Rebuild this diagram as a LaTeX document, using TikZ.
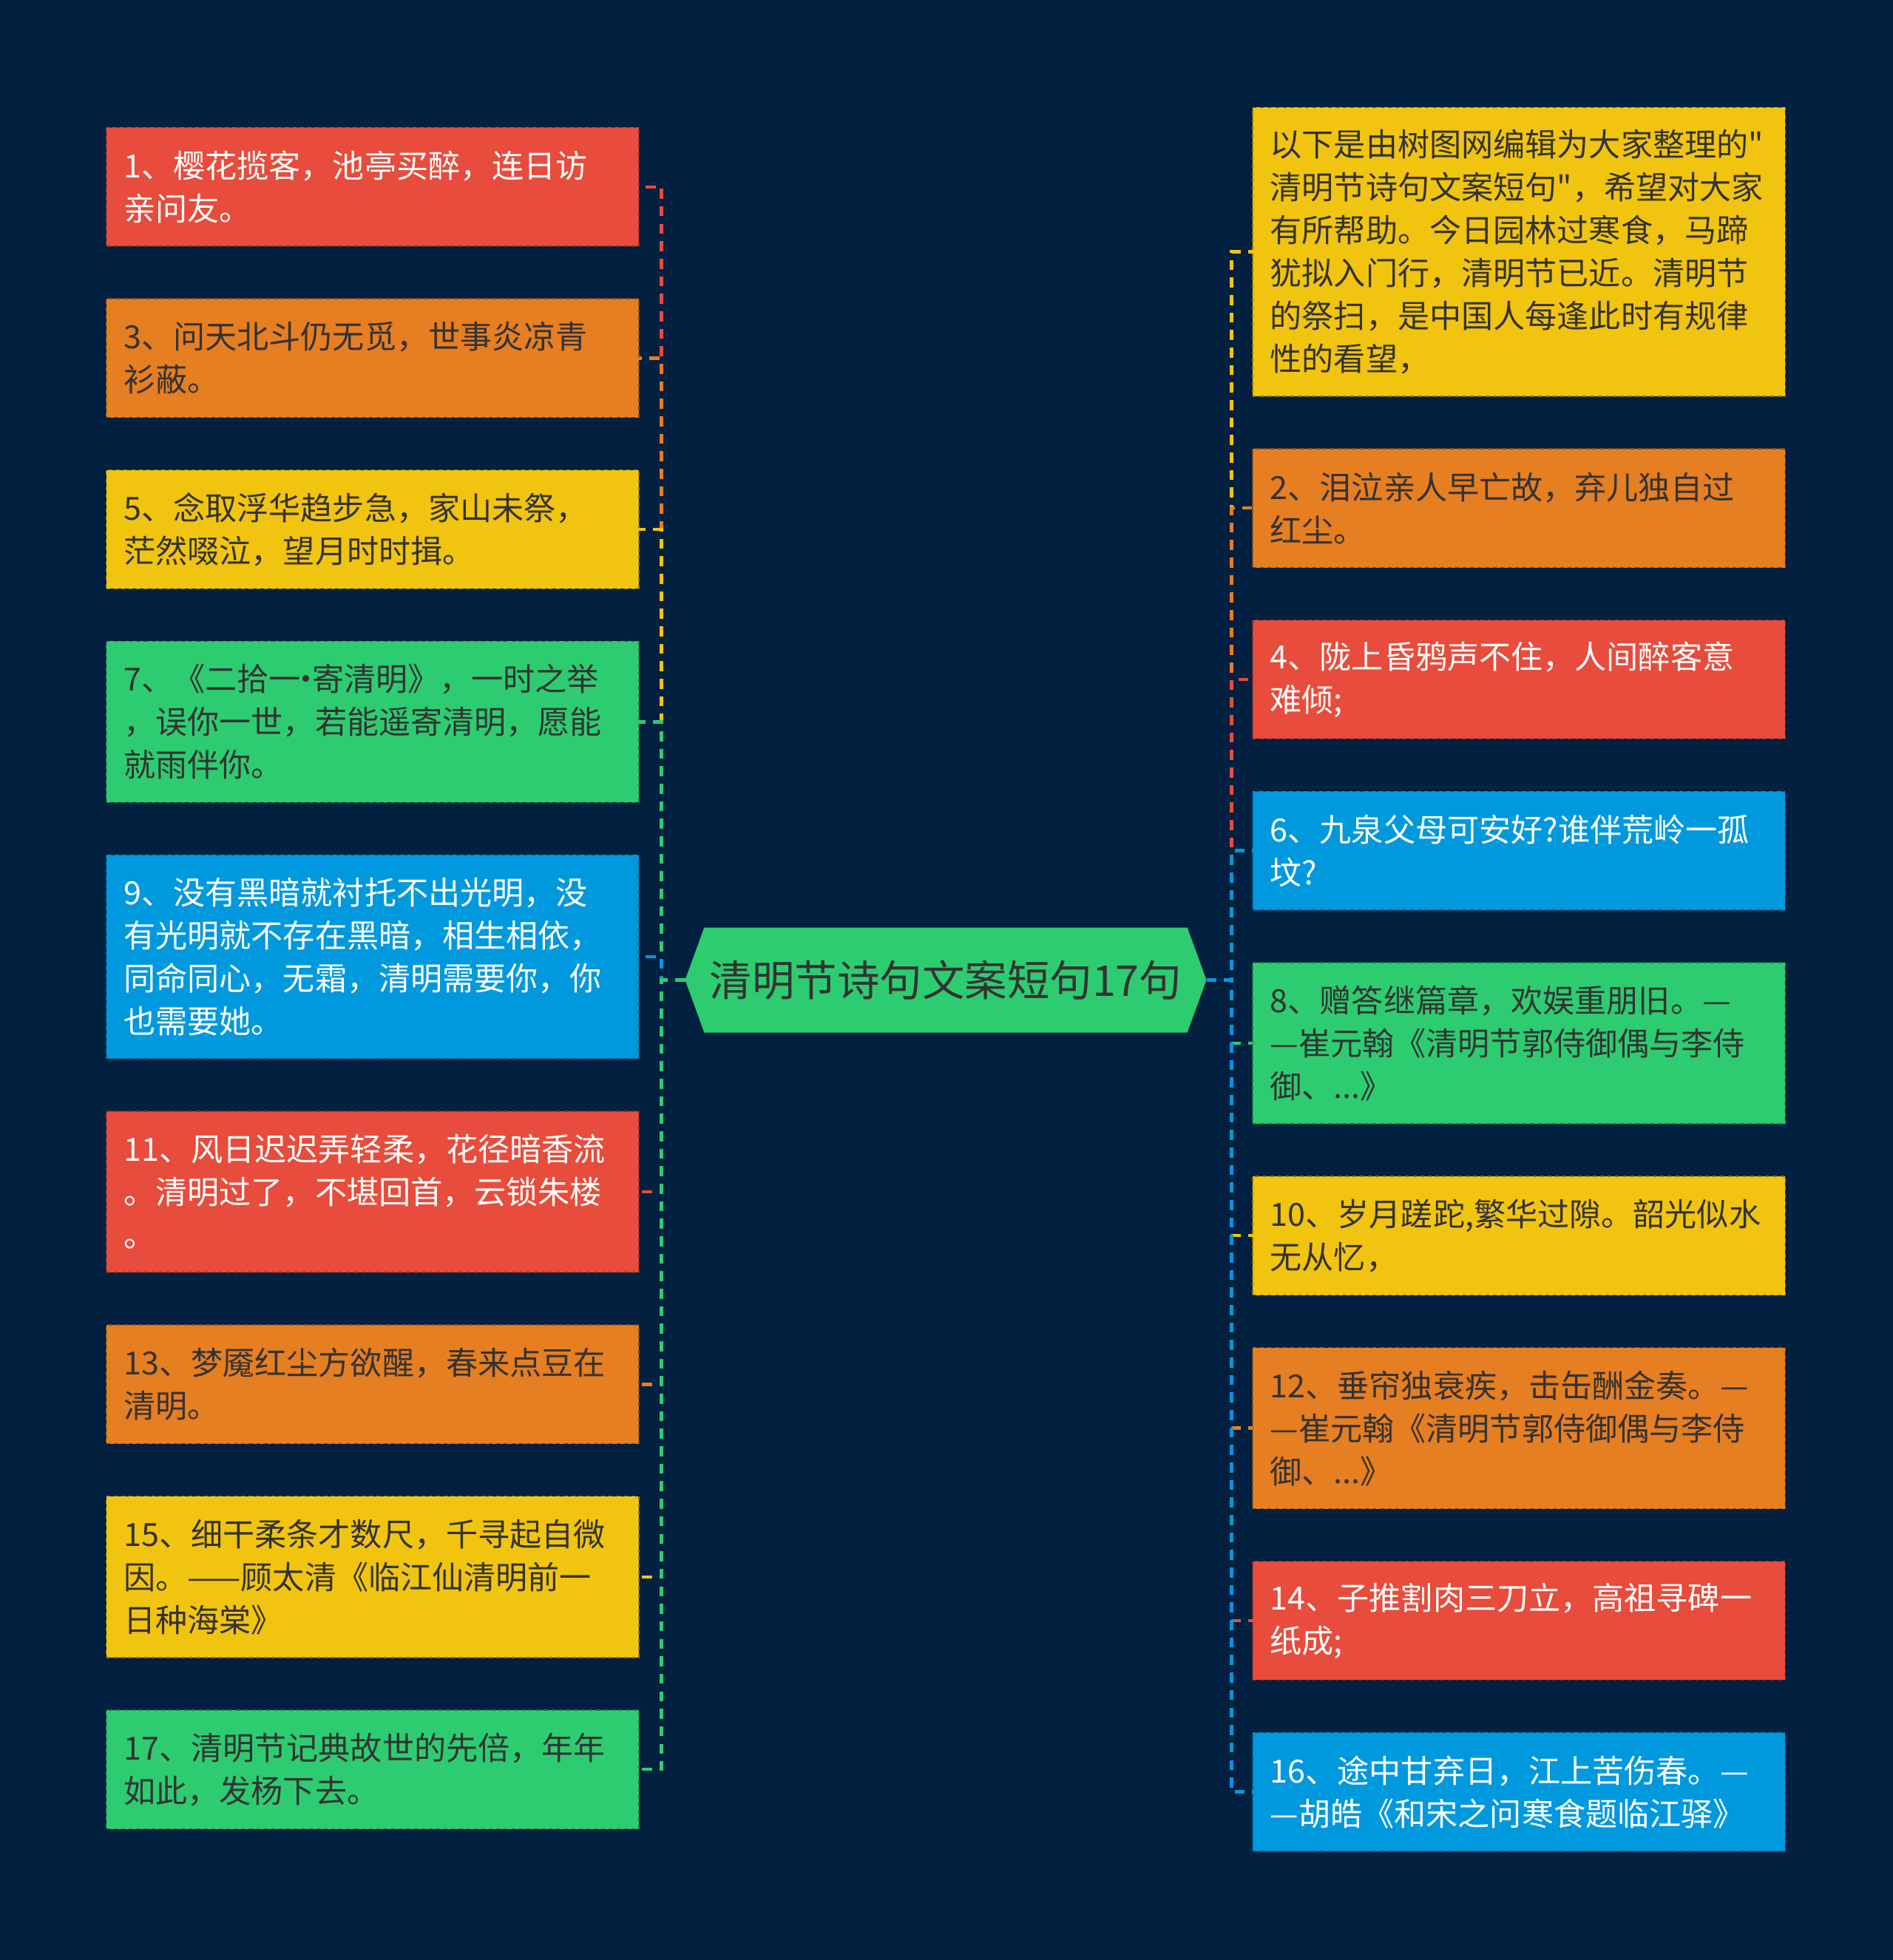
\documentclass[tikz,border=0pt]{standalone}
\usepackage{fontspec}
\setmainfont{Noto Sans CJK SC}[Ligatures=TeXOff]
\usepackage{tikz}
\usetikzlibrary{positioning,shapes.symbols}
\definecolor{navyBg}{HTML}{02203F}
\definecolor{flatRed}{HTML}{E74C3C}
\definecolor{flatOrange}{HTML}{E67E22}
\definecolor{flatYellow}{HTML}{F1C40F}
\definecolor{flatGreen}{HTML}{2ECC71}
\definecolor{flatBlue}{HTML}{0099DD}
\definecolor{inkGrey}{HTML}{333333}

\begin{document}
\begin{tikzpicture}[x=1pt,y=1pt,
  leaf/.style={rectangle,fill=#1,draw=#1!60!black,dashed,line width=0.8pt,
    text width=398pt,inner xsep=14pt,inner ysep=0pt,outer sep=0pt,align=left,
    font=\fontsize{25.5pt}{34.3pt}\selectfont,anchor=north west},
  nlines/.style={minimum height=#1*34pt+27pt},
  hub/.style={signal,signal to=west and east,signal pointer angle=140,
    fill=flatGreen,text=inkGrey,minimum width=417pt,minimum height=84pt,
    inner sep=0pt,outer sep=0pt,font=\fontsize{34pt}{40pt}\selectfont},
  conn/.style={draw=#1,line width=2.6pt,dash pattern=on 8pt off 6pt}]
\fill[navyBg] (0,0) rectangle (1514,-1568);

\node[hub] (hub) at (756.5,-784) {清明节诗句文案短句17句};

% left column
\node[leaf=flatRed,text=white,nlines=2] (l1) at (85,-102) {1、樱花揽客，池亭买醉，连日访\\亲问友。};
\node[leaf=flatOrange,text=inkGrey,nlines=2,below=42pt of l1] (l3) {3、问天北斗仍无觅，世事炎凉青\\衫蔽。};
\node[leaf=flatYellow,text=inkGrey,nlines=2,below=42pt of l3] (l5) {5、念取浮华趋步急，家山未祭，\\茫然啜泣，望月时时揖。};
\node[leaf=flatGreen,text=inkGrey,nlines=3,below=42pt of l5] (l7) {7、《二拾一\makebox[0.35em]{·}寄清明》，一时之举\\，误你一世，若能遥寄清明，愿能\\就雨伴你。};
\node[leaf=flatBlue,text=white,nlines=4,below=42pt of l7] (l9) {9、没有黑暗就衬托不出光明，没\\有光明就不存在黑暗，相生相依，\\同命同心，无霜，清明需要你，你\\也需要她。};
\node[leaf=flatRed,text=white,nlines=3,below=42pt of l9] (l11) {11、风日迟迟弄轻柔，花径暗香流\\。清明过了，不堪回首，云锁朱楼\\。};
\node[leaf=flatOrange,text=inkGrey,nlines=2,below=42pt of l11] (l13) {13、梦魇红尘方欲醒，春来点豆在\\清明。};
\node[leaf=flatYellow,text=inkGrey,nlines=3,below=42pt of l13] (l15) {15、细干柔条才数尺，千寻起自微\\因。——顾太清《临江仙清明前一\\日种海棠》};
\node[leaf=flatGreen,text=inkGrey,nlines=2,below=42pt of l15] (l17) {17、清明节记典故世的先倍，年年\\如此，发杨下去。};

% right column
\node[leaf=flatYellow,text=inkGrey,nlines=6] (r0) at (1002,-86) {以下是由树图网编辑为大家整理的"\\清明节诗句文案短句"，希望对大家\\有所帮助。今日园林过寒食，马蹄\\犹拟入门行，清明节已近。清明节\\的祭扫，是中国人每逢此时有规律\\性的看望，};
\node[leaf=flatOrange,text=inkGrey,nlines=2,below=42pt of r0] (r2) {2、泪泣亲人早亡故，弃儿独自过\\红尘。};
\node[leaf=flatRed,text=white,nlines=2,below=42pt of r2] (r4) {4、陇上昏鸦声不住，人间醉客意\\难倾;};
\node[leaf=flatBlue,text=white,nlines=2,below=42pt of r4] (r6) {6、九泉父母可安好?谁伴荒岭一孤\\坟?};
\node[leaf=flatGreen,text=inkGrey,nlines=3,below=42pt of r6] (r8) {8、赠答继篇章，欢娱重朋旧。—\\—崔元翰《清明节郭侍御偶与李侍\\御、...》};
\node[leaf=flatYellow,text=inkGrey,nlines=2,below=42pt of r8] (r10) {10、岁月蹉跎,繁华过隙。韶光似水\\无从忆，};
\node[leaf=flatOrange,text=inkGrey,nlines=3,below=42pt of r10] (r12) {12、垂帘独衰疾，击缶酬金奏。—\\—崔元翰《清明节郭侍御偶与李侍\\御、...》};
\node[leaf=flatRed,text=white,nlines=2,below=42pt of r12] (r14) {14、子推割肉三刀立，高祖寻碑一\\纸成;};
\node[leaf=flatBlue,text=white,nlines=2,below=42pt of r14] (r16) {16、途中甘弃日，江上苦伤春。—\\—胡皓《和宋之问寒食题临江驿》};

\foreach \n/\c in {l1/flatRed,l3/flatOrange,l5/flatYellow,l7/flatGreen,l9/flatBlue,
                   l11/flatRed,l13/flatOrange,l15/flatYellow,l17/flatGreen}
  \draw[conn=\c] (hub.west) -- ++(-19,0) |- (\n.east);
\foreach \n/\c in {r0/flatYellow,r2/flatOrange,r4/flatRed,r6/flatBlue,r8/flatGreen,
                   r10/flatYellow,r12/flatOrange,r14/flatRed,r16/flatBlue}
  \draw[conn=\c] (hub.east) -- ++(20,0) |- (\n.west);
\end{tikzpicture}
\end{document}
